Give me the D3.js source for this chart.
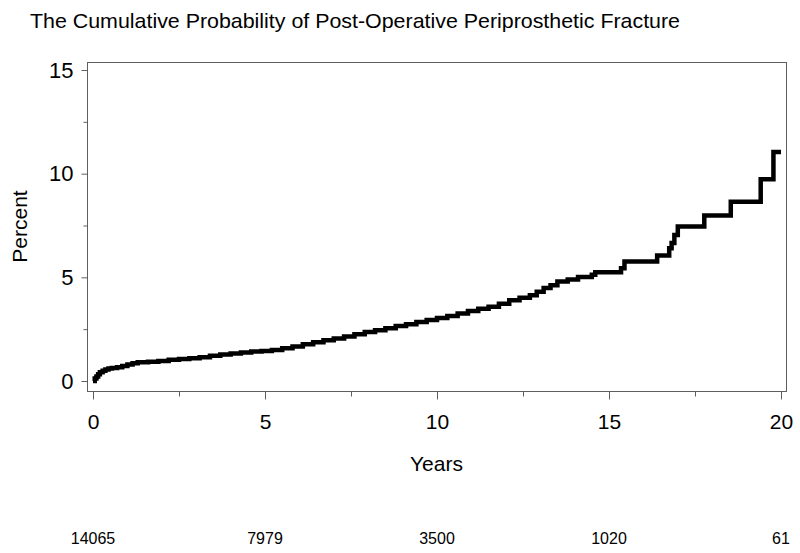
<!DOCTYPE html>
<html>
<head>
<meta charset="utf-8">
<script src="https://cdn.jsdelivr.net/npm/d3@7"></script>
<style>
body { margin:0; background:white; }
text { font-family: "Liberation Sans", Arial, sans-serif; fill:black; }
</style>
</head>
<body>
<svg id="plot"></svg>
<script>
// cumulative incidence curve (years, percent)
var years = [0, 0.05, 0.1, 0.15, 0.2, 0.28, 0.36, 0.45, 0.55, 0.7, 0.85, 1.0, 1.15, 1.3,
    1.6, 1.9, 2.2, 2.5, 2.8, 3.1, 3.4, 3.7, 4.0, 4.3, 4.6, 4.9, 5.2, 5.5, 5.8, 6.1,
    6.4, 6.7, 7.0, 7.3, 7.6, 7.9, 8.2, 8.5, 8.8, 9.1, 9.4, 9.7, 10.0, 10.3, 10.6,
    10.9, 11.2, 11.5, 11.8, 12.1, 12.4, 12.7, 12.9, 13.1, 13.3, 13.5, 13.8, 14.1,
    14.5, 14.6, 15.35, 15.45, 16.4, 16.75, 16.82, 16.9, 17.0, 17.77, 18.54, 19.41,
    19.78, 20.0]
var percent = [0, 0.12, 0.22, 0.32, 0.42, 0.5, 0.56, 0.6, 0.63, 0.66, 0.72, 0.8, 0.86, 0.9,
    0.93, 0.97, 1.02, 1.06, 1.1, 1.15, 1.22, 1.28, 1.33, 1.38, 1.42, 1.45, 1.5, 1.58, 1.67, 1.77,
    1.87, 1.96, 2.05, 2.15, 2.26, 2.36, 2.45, 2.54, 2.65, 2.74, 2.84, 2.94, 3.04, 3.14, 3.26,
    3.38, 3.48, 3.58, 3.72, 3.9, 4.02, 4.14, 4.3, 4.48, 4.62, 4.8, 4.9, 5.02,
    5.12, 5.24, 5.44, 5.76, 6.05, 6.4, 6.65, 7.04, 7.45, 7.98, 8.65, 9.73,
    11.05, 11.05]

var xTicks = [0, 5, 10, 15, 20]
var xMinor = [2.5, 7.5, 12.5, 17.5]
var yTicks = [0, 5, 10, 15]
var yMinor = [2.5, 7.5, 12.5]
// number at risk under the axis
var atRisk = [14065, 7979, 3500, 1020, 61]

var screen = {width:800, height:553}
var frame = {left:87, right:786, top:62, bottom:391}

var svg = d3.select("#plot")
    .attr("width", screen.width)
    .attr("height", screen.height)

var xScale = d3.scaleLinear()
    .domain([0, 20])
    .range([93, 781])

var yScale = d3.scaleLinear()
    .domain([0, 15])
    .range([381, 70])

var axisColor = "#5f5f5f"

// frame round the plot area
svg.append("rect")
    .attr("x", frame.left + 0.5)
    .attr("y", frame.top + 0.5)
    .attr("width", frame.right - frame.left)
    .attr("height", frame.bottom - frame.top)
    .attr("fill", "none")
    .attr("stroke", axisColor)
    .attr("stroke-width", 1)

// x axis
var xAxis = d3.axisBottom(xScale)
    .tickValues(xTicks)
    .tickSize(8)
    .tickPadding(15)
    .tickFormat(d3.format("d"))

var gx = svg.append("g")
    .attr("transform", "translate(0," + (frame.bottom + 0.5) + ")")
    .call(xAxis)
gx.select(".domain").remove()
gx.selectAll("line").attr("stroke", axisColor)
gx.selectAll("text").attr("font-size", 21).attr("fill", "black")

svg.append("g")
    .attr("transform", "translate(0," + (frame.bottom + 0.5) + ")")
    .call(d3.axisBottom(xScale).tickValues(xMinor).tickSize(5).tickFormat(""))
    .call(function(g){ g.select(".domain").remove() })
    .selectAll("line").attr("stroke", axisColor)

// y axis
var yAxis = d3.axisLeft(yScale)
    .tickValues(yTicks)
    .tickSize(6)
    .tickPadding(8)
    .tickFormat(d3.format("d"))

var gy = svg.append("g")
    .attr("transform", "translate(" + (frame.left + 0.5) + ",0)")
    .call(yAxis)
gy.select(".domain").remove()
gy.selectAll("line").attr("stroke", axisColor)
gy.selectAll("text").attr("font-size", 22).attr("fill", "black")

svg.append("g")
    .attr("transform", "translate(" + (frame.left + 0.5) + ",0)")
    .call(d3.axisLeft(yScale).tickValues(yMinor).tickSize(4).tickFormat(""))
    .call(function(g){ g.select(".domain").remove() })
    .selectAll("line").attr("stroke", axisColor)

// the curve
var points = years.map(function(y, i){ return {t:y, p:percent[i]} })

var line = d3.line()
    .x(function(d){ return xScale(d.t) })
    .y(function(d){ return yScale(d.p) })
    .curve(d3.curveStepAfter)

svg.append("path")
    .datum(points)
    .attr("d", line)
    .attr("fill", "none")
    .attr("stroke", "black")
    .attr("stroke-width", 4.5)
    .attr("stroke-linejoin", "miter")
    .attr("stroke-linecap", "butt")

// labels
svg.append("text")
    .text("The Cumulative Probability of Post-Operative Periprosthetic Fracture")
    .attr("x", 30)
    .attr("y", 28)
    .attr("font-size", 21)
    .attr("textLength", 650)
    .attr("lengthAdjust", "spacingAndGlyphs")

svg.append("text")
    .text("Years")
    .attr("text-anchor", "middle")
    .attr("x", (frame.left + frame.right) / 2)
    .attr("y", 471)
    .attr("font-size", 21)

svg.append("g")
    .attr("transform", "translate(27," + ((frame.top + frame.bottom) / 2) + ")")
    .append("text")
    .text("Percent")
    .attr("text-anchor", "middle")
    .attr("transform", "rotate(-90)")
    .attr("font-size", 21)

svg.append("g")
    .selectAll("text")
    .data(atRisk)
    .enter()
    .append("text")
    .text(function(d){ return d })
    .attr("x", function(d, i){ return xScale(xTicks[i]) })
    .attr("y", 544)
    .attr("text-anchor", "middle")
    .attr("font-size", 16)
</script>
</body>
</html>
